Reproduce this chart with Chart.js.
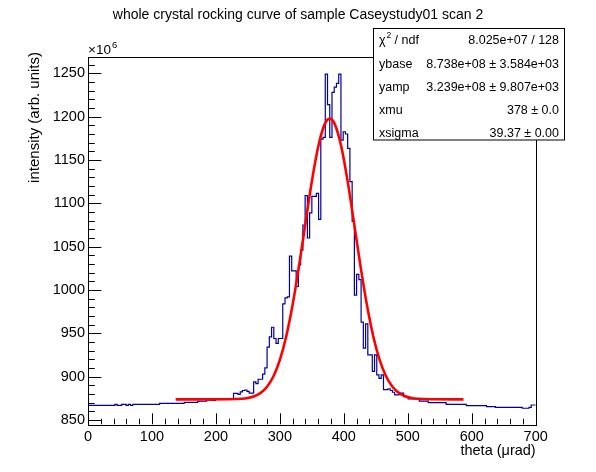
<!DOCTYPE html>
<html>
<head>
<meta charset="utf-8">
<script src="https://cdn.jsdelivr.net/npm/chart.js@4.4.1/dist/chart.umd.min.js"></script>
<style>
  html, body { margin: 0; padding: 0; background: #fff; }
</style>
</head>
<body>
<canvas id="myChart" width="596" height="472"></canvas>
<script>
// histogram: 200 bins of 3.5 urad from 0 to 700, contents in units of 1e6
const binWidth = 3.5
const xMin = 0
const xMax = 700
const counts = [
  866.9, 866.9, 866.9, 866.9, 866.9, 866.9, 866.9, 866.9, 866.9, 866.9,
  866.9, 866.9, 866.9, 867.9, 866.9, 866.9, 867.9, 867.9, 866.9, 867.9,
  866.9, 868.1, 868.1, 868.1, 868.1, 868.1, 868.1, 868.1, 868.1, 868.1,
  868.1, 868.1, 868.1, 869.2, 869.2, 869.2, 869.2, 869.2, 869.2, 869.2,
  869.2, 869.2, 869.2, 869.2, 870.4, 870.4, 870.4, 870.4, 870.4, 870.4,
  871.6, 871.6, 871.6, 871.6, 873.0, 873.0, 873.0, 872.5, 874.2, 874.2,
  874.2, 874.6, 874.0, 874.6, 874.8, 874.6, 880.8, 880.8, 879.6, 882.4,
  884.0, 884.6, 883.0, 881.0, 881.0, 894.0, 892.0, 897.0, 897.0, 903.0,
  910.0, 934.0, 946.0, 957.0, 944.0, 938.5, 944.0, 944.0, 984.0, 991.0,
  992.0, 1039.0, 1022.0, 1022.0, 1004.0, 1029.0, 1046.0, 1075.0, 1109.0, 1060.0,
  1089.0, 1108.0, 1108.0, 1111.5, 1081.5, 1174.0, 1176.0, 1249.0, 1214.0, 1176.0,
  1228.0, 1234.0, 1238.5, 1249.0, 1173.0, 1182.6, 1180.0, 1163.5, 1125.0, 1079.0,
  994.0, 1018.0, 1012.0, 963.0, 933.0, 961.0, 925.0, 925.0, 906.0, 925.0,
  902.0, 898.0, 902.0, 885.0, 885.0, 886.0, 884.0, 882.0, 879.0, 879.0,
  881.0, 881.0, 877.0, 877.0, 874.2, 874.2, 874.2, 874.2, 874.2, 871.7,
  871.7, 871.7, 871.7, 870.0, 870.0, 870.0, 870.0, 870.0, 870.0, 870.0,
  870.0, 868.1, 868.1, 868.1, 868.1, 868.1, 868.1, 868.1, 868.1, 868.1,
  866.5, 866.5, 866.5, 866.5, 866.5, 866.5, 866.5, 866.5, 866.5, 865.4,
  865.4, 865.4, 865.4, 864.6, 864.6, 864.6, 864.6, 864.6, 864.6, 864.6,
  864.6, 864.6, 864.6, 864.6, 864.6, 863.5, 863.5, 863.5, 864.6, 867.3
]

// gaussian fit curve
const fitX = [137, 180, 220, 240, 250, 260, 270, 280, 290, 300, 310, 320, 330, 340, 350, 360, 370,
              378, 386, 396, 406, 416, 426, 436, 446, 456, 466, 476, 486, 496, 506, 516, 536, 587]
const fitY = [873.8, 873.8, 873.9, 874.5, 875.4, 877.4, 881.3, 888.4, 900.4, 919.3, 946.7, 983.2, 1027.8,
              1077.1, 1125.3, 1165.6, 1191.1, 1197.7, 1191.1, 1165.6, 1125.3, 1077.1, 1027.8, 983.2,
              946.7, 919.3, 900.4, 888.4, 881.3, 877.4, 875.4, 874.5, 873.9, 873.8]

const xTicks = [0, 100, 200, 300, 400, 500, 600, 700]
const yTicks = [850, 900, 950, 1000, 1050, 1100, 1150, 1200, 1250]
const yMin = 845
const yMax = 1269.2

const statsRows = [
  ['χ2 / ndf', '8.025e+07 / 128'],
  ['ybase', '8.738e+08 ± 3.584e+03'],
  ['yamp', '3.239e+08 ± 9.807e+03'],
  ['xmu', '378 ± 0.0'],
  ['xsigma', '39.37 ± 0.00']
]

const histPoints = []
for (let i = 0; i < counts.length; i++) {
  histPoints.push({x: xMin + i * binWidth, y: counts[i]})
}
histPoints.push({x: xMax, y: counts[counts.length - 1]})

const fitPoints = fitX.map((x, i) => ({x: x, y: fitY[i]}))

const FONT = '"Liberation Sans", Arial, Helvetica, sans-serif'

const rootFrame = {
  id: 'rootFrame',
  afterDraw(chart) {
    const c = chart.ctx
    const a = chart.chartArea
    const xs = chart.scales.x
    const ys = chart.scales.y
    c.save()
    c.strokeStyle = '#000'
    c.lineWidth = 1
    c.strokeRect(Math.round(a.left) + 0.5, Math.round(a.top) + 0.5,
                 Math.round(a.right - a.left), Math.round(a.bottom - a.top))

    // tick marks point into the frame
    c.beginPath()
    for (let v = xMin; v <= xMax; v += 20) {
      const px = Math.round(xs.getPixelForValue(v)) + 0.5
      const len = (v % 100 === 0) ? 11 : 5.5
      c.moveTo(px, a.bottom)
      c.lineTo(px, a.bottom - len)
    }
    for (let v = 850; v <= yMax; v += 10) {
      const py = Math.round(ys.getPixelForValue(v)) + 0.5
      const len = (v % 50 === 0) ? 13.4 : 6.7
      c.moveTo(a.left, py)
      c.lineTo(a.left + len, py)
    }
    c.stroke()

    c.fillStyle = '#000'
    // title
    c.font = '14px ' + FONT
    c.textAlign = 'center'
    c.textBaseline = 'middle'
    c.fillText('whole crystal rocking curve of sample Caseystudy01 scan 2', 298, 15)

    // axis titles
    c.font = '14.5px ' + FONT
    c.textAlign = 'right'
    c.fillText('theta (μrad)', a.right, 451)
    c.save()
    c.translate(35, 52)
    c.rotate(-Math.PI / 2)
    c.font = '15px ' + FONT
    c.textAlign = 'right'
    c.fillText('intensity (arb. units)', 0, 0)
    c.restore()

    // exponent
    c.textAlign = 'left'
    c.textBaseline = 'alphabetic'
    c.font = '13.5px ' + FONT
    c.fillText('×10', 88, 54)
    c.font = '9.5px ' + FONT
    c.fillText('6', 112, 47.5)

    // stats box
    const bx = 373.5, by = 28.5, bw = 191, bh = 111.5
    c.fillStyle = '#fff'
    c.fillRect(bx, by, bw, bh)
    c.strokeRect(bx, by, bw, bh)
    c.fillStyle = '#000'
    c.textBaseline = 'middle'
    const rowY = [41, 64.5, 88, 111, 133.5]
    statsRows.forEach((row, i) => {
      c.font = '12.5px ' + FONT
      c.textAlign = 'left'
      if (i === 0) {
        c.fillText('χ', 379, rowY[i])
        const w = c.measureText('χ').width
        c.font = '8.5px ' + FONT
        c.fillText('2', 379 + w + 1, rowY[i] - 5)
        c.font = '12.5px ' + FONT
        c.fillText('/ ndf', 379 + w + 9, rowY[i])
      } else {
        c.fillText(row[0], 379, rowY[i])
      }
      c.textAlign = 'right'
      c.fillText(row[1], 559, rowY[i])
    })
    c.restore()
  }
}

let myChart = document.getElementById('myChart').getContext('2d')

let rockingChart = new Chart(myChart, {
  type: 'line',
  data: {
    datasets: [{
      label: 'scan 2',
      data: histPoints,
      stepped: 'after',
      borderColor: '#00009c',
      borderWidth: 1.2,
      pointRadius: 0,
      fill: false,
      order: 2
    }, {
      label: 'fit',
      data: fitPoints,
      borderColor: '#ff0000',
      borderWidth: 2.6,
      pointRadius: 0,
      fill: false,
      cubicInterpolationMode: 'monotone',
      order: 1
    }]
  },
  options: {
    responsive: false,
    animation: false,
    devicePixelRatio: 1,
    layout: {padding: {left: 0, top: 56.7, right: 60.3, bottom: 0}},
    plugins: {legend: {display: false}, tooltip: {enabled: false}, title: {display: false}},
    scales: {
      x: {
        type: 'linear',
        min: xMin,
        max: xMax,
        grid: {display: false, drawTicks: false},
        border: {display: false},
        afterFit: s => { s.height = 472 - 424.3 },
        afterBuildTicks: s => { s.ticks = xTicks.map(v => ({value: v})) },
        ticks: {color: '#000', padding: 4, maxRotation: 0, font: {family: FONT, size: 14.5},
                callback: v => String(v)}
      },
      y: {
        type: 'linear',
        min: yMin,
        max: yMax,
        grid: {display: false, drawTicks: false},
        border: {display: false},
        afterFit: s => { s.width = 88 },
        afterBuildTicks: s => { s.ticks = yTicks.map(v => ({value: v})) },
        ticks: {color: '#000', padding: 3, font: {family: FONT, size: 14.5},
                callback: v => String(v)}
      }
    }
  },
  plugins: [rootFrame]
})
</script>
</body>
</html>
